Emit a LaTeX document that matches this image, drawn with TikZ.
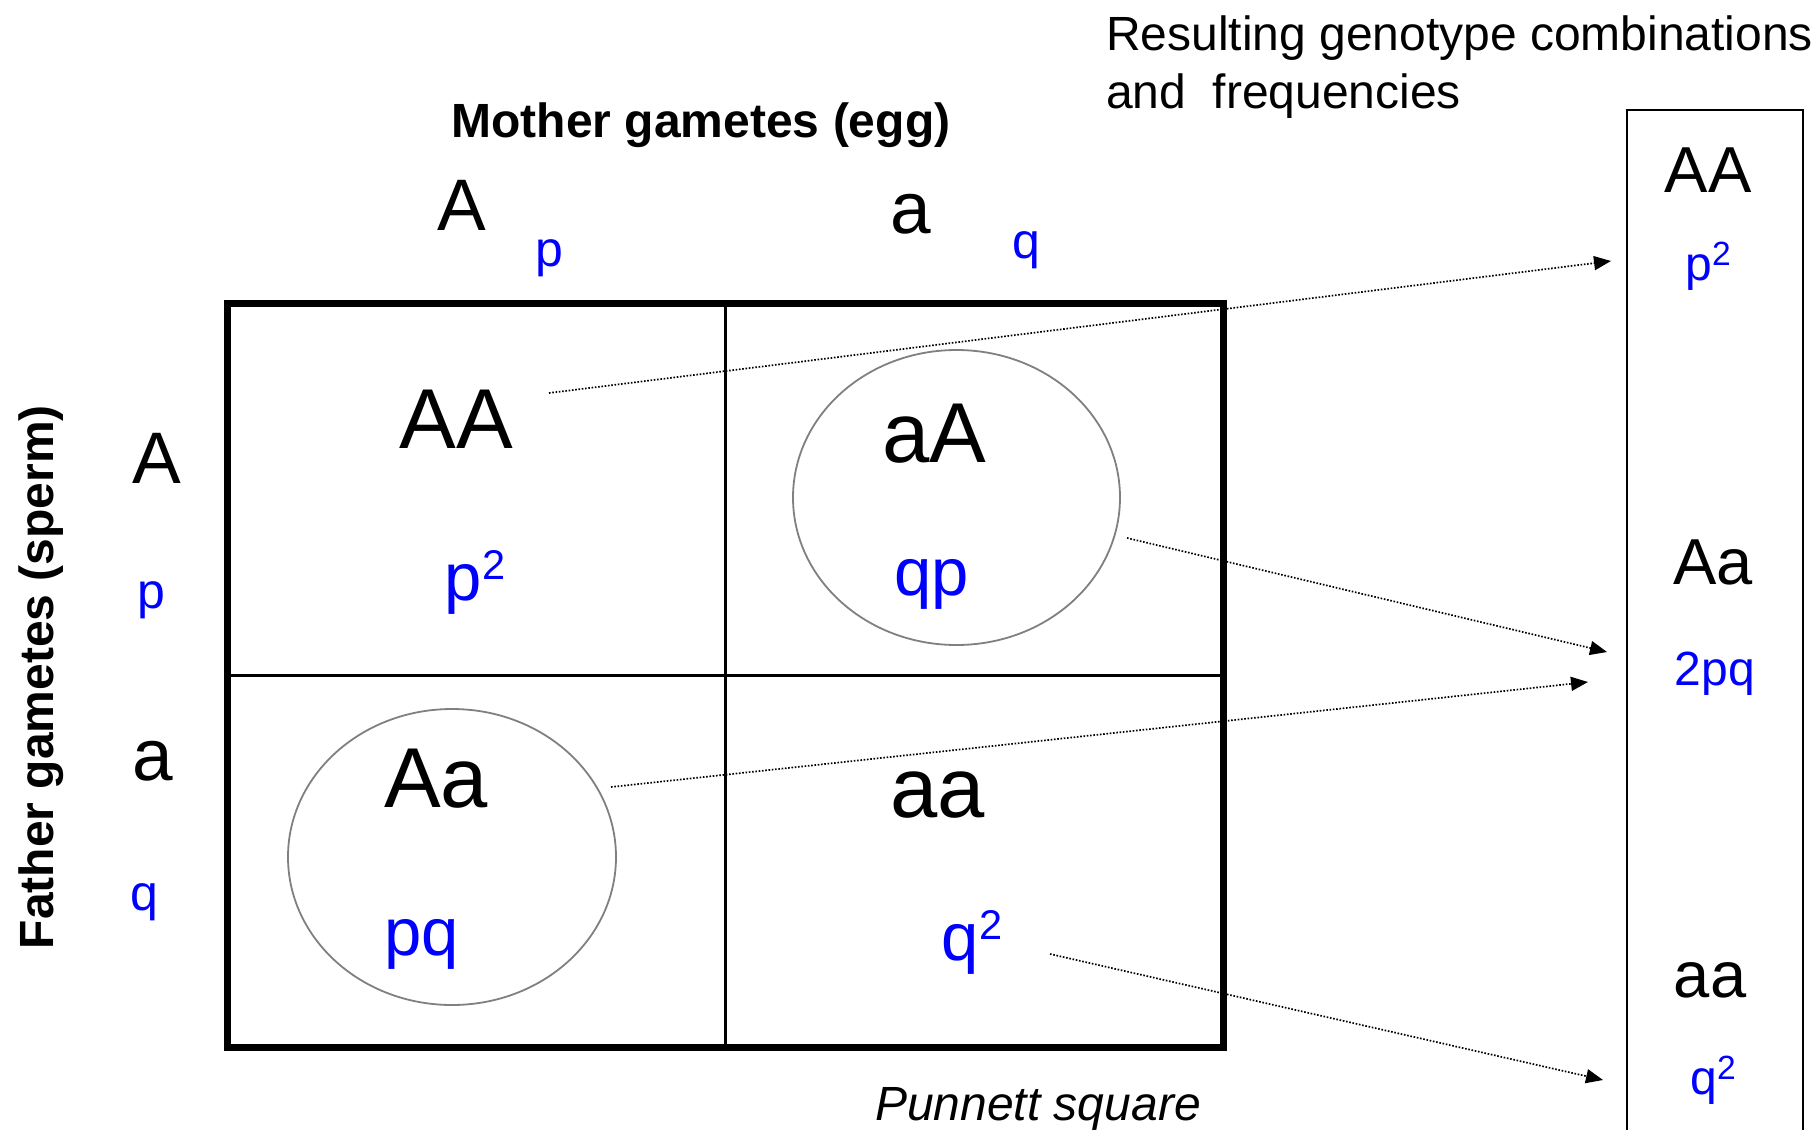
\documentclass[tikz,border=0pt]{standalone}
\usepackage{fontspec}
\setmainfont{Liberation Sans}
\usepackage{graphicx}
\usetikzlibrary{arrows.meta}
\definecolor{fblue}{RGB}{0,0,255}
\definecolor{ringgray}{RGB}{128,128,128}
\newcommand{\supsq}{\raisebox{0.30em}{\scalebox{0.62}{2}}}
\newcommand{\supsqb}{\raisebox{0.30em}{\scalebox{0.7}{2}}}
\newcommand{\fsz}[1]{\fontsize{#1}{#1}\selectfont}
\begin{document}
\begin{tikzpicture}[x=1pt,y=-1pt,
 lbl/.style={inner sep=0pt, outer sep=0pt, anchor=base},
 titletext/.style={lbl, font=\fsz{48}\bfseries},
 gam/.style={lbl, font=\fsz{73}},
 gfreq/.style={lbl, font=\fsz{50}, text=fblue},
 geno/.style={lbl, font=\fsz{85}},
 cfreq/.style={lbl, font=\fsz{67}, text=fblue},
 rgeno/.style={lbl, font=\fsz{65}},
 rfreq/.style={lbl, font=\fsz{48}, text=fblue},
 ring/.style={draw=ringgray, line width=1.8pt},
 flow/.style={dash pattern=on 1.6pt off 1.7pt, line width=1.7pt, -{Triangle[length=17pt,width=14pt]}},
]
\useasboundingbox (0,0) rectangle (1816,1130);
\fill[white] (0,0) rectangle (1816,1130);

% Titles
\node[lbl, font=\fsz{48}, anchor=base west] (res1) at (1106,50) {Resulting genotype combinations};
\node[lbl, font=\fsz{48}, anchor=base west] (res2) at (1106,108) {and\ \ frequencies};
\node[titletext] (mother) at (701,137) {Mother gametes (egg)};
\node[titletext, rotate=90] (father) at (53,677) {Father gametes (sperm)};
\node[lbl, font=\fsz{48}\itshape] (punnett) at (1038,1120) {Punnett square};

% Gamete headers
\node[gam] (colA) at (462,230) {A};
\node[gfreq] (colp) at (549,266) {p};
\node[gam] (cola) at (911,233) {a};
\node[gfreq] (colq) at (1026,258) {q};
\node[gam] (rowA) at (157,483) {A};
\node[gfreq] (rowp) at (151,608) {p};
\node[gam] (rowa) at (153,780) {a};
\node[gfreq] (rowq) at (144,910) {q};

% Punnett square grid
\draw[line width=7pt] (227.5,303) rectangle (1223.5,1047.5);
\draw[line width=3.5pt] (725.5,303) -- (725.5,1047.5);
\draw[line width=3.5pt] (227.5,675.5) -- (1223.5,675.5);

% Rings
\draw[ring] (956.5,497.5) ellipse [x radius=163.5pt, y radius=147.5pt];
\draw[ring] (452,857) ellipse [x radius=164pt, y radius=148pt];

% Cells
\node[geno] (cAA) at (456,448) {AA};
\node[cfreq] (cpp) at (475,600) {p\supsq};
\node[geno] (caA) at (934,462) {aA};
\node[cfreq] (cqp) at (932,595) {qp};
\node[geno] (cAa) at (436,807) {Aa};
\node[cfreq] (cpq) at (422,955) {pq};
\node[geno] (caa) at (938,817) {aa};
\node[cfreq] (cqq) at (972,960) {q\supsq};

% Result column
\draw[line width=2pt] (1627,1140) -- (1627,110) -- (1803,110) -- (1803,1140);
\node[rgeno] (rAA) at (1708,192) {AA};
\node[rfreq] (rpp) at (1708,280) {p\supsqb};
\node[rgeno] (rAa) at (1713,584) {Aa};
\node[rfreq] (rpq) at (1715,685) {2pq};
\node[rgeno] (raa) at (1710,997) {aa};
\node[rfreq] (rqq) at (1713,1094) {q\supsqb};

% Arrow end points
\coordinate (s1) at (549,393);
\coordinate (e1) at (1611,261);
\coordinate (s2) at (1127,538);
\coordinate (e2) at (1607,652);
\coordinate (s3) at (611,787);
\coordinate (e3) at (1588,682);
\coordinate (s4) at (1050,954);
\coordinate (e4) at (1603,1080);
\draw[flow] (s1) -- (e1);
\draw[flow] (s2) -- (e2);
\draw[flow] (s3) -- (e3);
\draw[flow] (s4) -- (e4);
\end{tikzpicture}
\end{document}
